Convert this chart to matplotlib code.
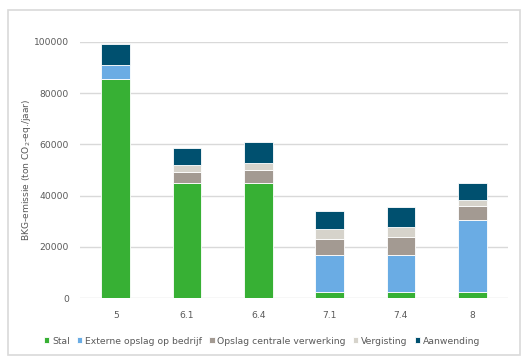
import matplotlib.pyplot as plt
import numpy as np
from matplotlib.patches import Rectangle

categories = ["5", "6.1", "6.4", "7.1", "7.4", "8"]
stal = [85700, 44800, 44800, 2500, 2500, 2500]
externe = [5200, 0, 0, 14300, 14300, 28100]
opslag = [0, 4300, 5200, 6200, 7200, 5200]
vergisting = [0, 2700, 2900, 3800, 3700, 2600]
aanwending = [8200, 6900, 7900, 7300, 7900, 6700]

series = [
    ("Stal", stal, "#37B034"),
    ("Externe opslag op bedrijf", externe, "#6AACE4"),
    ("Opslag centrale verwerking", opslag, "#A39A92"),
    ("Vergisting", vergisting, "#D6D3CB"),
    ("Aanwending", aanwending, "#00506F"),
]

plt.rcParams['font.family'] = ['DejaVu Sans']
text_col = "#595959"

fig = plt.figure(figsize=(5.29, 3.6), dpi=100)
ax = fig.add_axes([80 / 529, 1 - 298 / 360, 428 / 529, 256 / 360])

# outer chart border
fig.patches.append(Rectangle((8 / 529, 1 - 355 / 360), 512 / 529, 345 / 360,
                             transform=fig.transFigure, fill=False,
                             edgecolor="#D9D9D9", lw=1.2))

x = np.arange(len(categories))
bottom = np.zeros(len(categories))
for name, vals, col in series:
    vals = np.array(vals, dtype=float)
    ax.bar(x, vals, 0.4, bottom=bottom, color=col, edgecolor="white",
           linewidth=0.6, label=name, zorder=3)
    bottom += vals

ax.set_xlim(-0.5, len(categories) - 0.5)
ax.set_ylim(0, 100000)
ax.set_yticks(range(0, 100001, 20000))
ax.set_xticks(x)
ax.set_xticklabels(categories)
ax.grid(axis="y", color="#D9D9D9", lw=1, zorder=0)
for s in ax.spines.values():
    s.set_visible(False)
ax.tick_params(length=0, labelsize=6.6, labelcolor=text_col, pad=8)
ax.tick_params(axis="x", pad=9)
ax.set_ylabel("BKG-emissie (ton CO$_2$-eq./jaar)", fontsize=6.6, color=text_col)
ax.yaxis.set_label_coords(-47 / 428, 0.5)

fig.legend(loc="center", bbox_to_anchor=(262 / 529, 1 - 341 / 360), ncol=5,
           frameon=False, fontsize=6.7, labelcolor=text_col,
           handlelength=0.6, handleheight=0.6, handletextpad=0.3,
           columnspacing=0.75)

fig.savefig("out.png", dpi=100)
